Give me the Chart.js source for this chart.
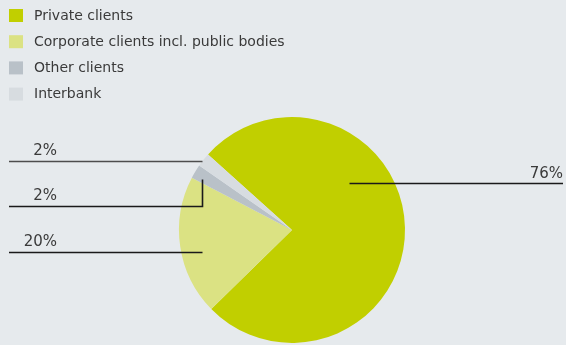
<!DOCTYPE html>
<html><head><meta charset="utf-8">
<script src="https://cdn.jsdelivr.net/npm/chart.js@4/dist/chart.umd.min.js"></script>
<style>html,body{margin:0;padding:0;background:#e6eaed;}#wrap{width:566px;height:345px;position:relative;}</style>
</head><body><div id="wrap"><canvas id="c" width="566" height="345"></canvas></div>
<script>
const categories = ['Private clients','Corporate clients incl. public bodies','Other clients','Interbank'];
const shares = [76, 20, 2, 2];
const labelTexts = ['76%', '20%', '2%', '2%'];
const colors = ['#c1cf00', '#dbe283', '#b9c1c8', '#d7dce0'];

// leader layout: position of anchor inside slice (fraction of sweep, fraction of radius), side, elbow drop
const leaderLayout = [
  {frac: 0.36, rad: 0.65, side: 'right', drop: 0, lineColor: '#1a1a1a'},
  {frac: 0.43, rad: 0.82, side: 'left', drop: 0, lineColor: '#1a1a1a'},
  {frac: 0.26, rad: 0.915, side: 'left', drop: 27, lineColor: '#1a1a1a'},
  {frac: 0.375, rad: 1.0, side: 'left', drop: 0, lineColor: '#4d4d4d'}
];
const FONT = '"DejaVu Sans", sans-serif';

const overlay = {
  id: 'overlay',
  afterDraw(chart) {
    const ctx = chart.ctx;
    const meta = chart.getDatasetMeta(0);
    ctx.save();
    // legend
    ctx.font = '14px ' + FONT;
    ctx.textBaseline = 'middle';
    ctx.textAlign = 'left';
    categories.forEach((name, i) => {
      const cy = 15.5 + i * 26.2;
      ctx.fillStyle = colors[i];
      ctx.fillRect(9, cy - 6.5, 14, 13);
      ctx.fillStyle = '#3a3a3a';
      ctx.fillText(name, 34, cy + 0.5);
    });
    // leader lines + labels
    meta.data.forEach((arc, i) => {
      const L = leaderLayout[i];
      const a = arc.startAngle + (arc.endAngle - arc.startAngle) * L.frac;
      const r = arc.outerRadius * L.rad;
      const ax = Math.round(arc.x + Math.cos(a) * r) + 0.5;
      const ay = Math.round(arc.y + Math.sin(a) * r) + 0.5;
      ctx.strokeStyle = L.lineColor;
      ctx.lineWidth = 1.6;
      ctx.beginPath();
      ctx.fillStyle = '#3a3a3a';
      ctx.font = '15px ' + FONT;
      ctx.textBaseline = 'alphabetic';
      ctx.textAlign = 'right';
      if (L.side === 'right') {
        const endX = chart.width - 3;
        ctx.moveTo(ax, ay); ctx.lineTo(endX, ay);
        ctx.stroke();
        ctx.fillText(labelTexts[i], endX, ay - 6);
      } else {
        const y = ay + L.drop;
        ctx.moveTo(ax, ay);
        if (L.drop) ctx.lineTo(ax, y);
        ctx.lineTo(9, y);
        ctx.stroke();
        ctx.fillText(labelTexts[i], 57, y - 7);
      }
    });
    ctx.restore();
  }
};

new Chart(document.getElementById('c'), {
  type: 'pie',
  data: {
    labels: categories,
    datasets: [{data: shares, backgroundColor: colors, borderWidth: 0, hoverOffset: 0}]
  },
  options: {
    responsive: false,
    animation: false,
    rotation: -48,
    layout: {padding: {top: 117, bottom: 2, left: 18, right: 0}},
    plugins: {legend: {display: false}, tooltip: {enabled: false}}
  },
  plugins: [overlay]
});
</script></body></html>
